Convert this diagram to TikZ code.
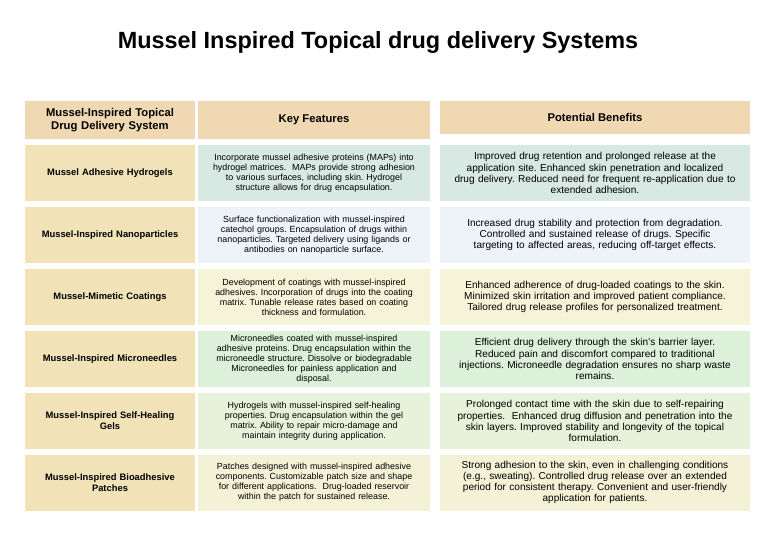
\documentclass[tikz,border=0pt]{standalone}
\usepackage{fontspec}
\setmainfont{Liberation Sans}
\usetikzlibrary{positioning}
\definecolor{headtan}{HTML}{EFD8B2}
\definecolor{sandcol}{HTML}{F1E2B8}
\definecolor{tealcol}{HTML}{D8E8E3}
\definecolor{bluecol}{HTML}{EEF2F9}
\definecolor{creamcol}{HTML}{F5F3D8}
\definecolor{greencol}{HTML}{DDF1DA}
\definecolor{mintcol}{HTML}{E6F2DA}
\definecolor{palecol}{HTML}{F3F2D6}
\begin{document}
\frenchspacing
\begin{tikzpicture}[
    x=0.03cm, y=-0.03cm,
    cell/.style={inner sep=1pt, align=center, font=\fontsize{7.6}{8.6}\selectfont},
    syscell/.style={cell, fill=sandcol, minimum width=5.1cm, minimum height=1.68cm, text width=5cm, font=\fontsize{8}{9.6}\selectfont\bfseries},
    keycell/.style={cell, minimum width=6.96cm, minimum height=1.68cm, text width=6.85cm},
    bencell/.style={cell, minimum width=9.3cm, minimum height=1.68cm, text width=9.2cm, font=\fontsize{8.6}{9.5}\selectfont},
    headcell/.style={cell, fill=headtan, minimum height=1.14cm, font=\fontsize{9.6}{10.6}\selectfont\bfseries}
]
    \useasboundingbox (0,0) rectangle (777,537);
    \node[font=\fontsize{20}{24}\selectfont\bfseries] (title) at (378,42) {Mussel Inspired Topical drug delivery Systems};

    % header row
    \node[headcell, minimum width=5.1cm, text width=5cm] (hsys) at (110,120) {Mussel-Inspired Topical\\Drug Delivery System};
    \node[headcell, minimum width=6.96cm] (hkey) at (314,120) {Key Features};
    \node[headcell, minimum width=9.3cm, minimum height=0.99cm] (hben) at (595,117.5) {Potential Benefits};

    % row 1
    \node[syscell] (s1) at (110,173) {Mussel Adhesive Hydrogels};
    \node[keycell, fill=tealcol] (k1) at (314,173) {Incorporate mussel adhesive proteins (MAPs) into\\hydrogel matrices.\ \ MAPs provide strong adhesion\\to various surfaces, including skin. Hydrogel\\structure allows for drug encapsulation.};
    \node[bencell, fill=tealcol] (b1) at (595,173) {Improved drug retention and prolonged release at the\\application site. Enhanced skin penetration and localized\\drug delivery. Reduced need for frequent re-application due to\\extended adhesion.};

    % row 2
    \node[syscell] (s2) at (110,235) {Mussel-Inspired Nanoparticles};
    \node[keycell, fill=bluecol] (k2) at (314,235) {Surface functionalization with mussel-inspired\\catechol groups. Encapsulation of drugs within\\nanoparticles. Targeted delivery using ligands or\\antibodies on nanoparticle surface.};
    \node[bencell, fill=bluecol] (b2) at (595,235) {Increased drug stability and protection from degradation.\\Controlled and sustained release of drugs. Specific\\targeting to affected areas, reducing off-target effects.};

    % row 3
    \node[syscell] (s3) at (110,297) {Mussel-Mimetic Coatings};
    \node[keycell, fill=creamcol] (k3) at (314,297) {Development of coatings with mussel-inspired\\adhesives. Incorporation of drugs into the coating\\matrix. Tunable release rates based on coating\\thickness and formulation.};
    \node[bencell, fill=creamcol] (b3) at (595,297) {Enhanced adherence of drug-loaded coatings to the skin.\\Minimized skin irritation and improved patient compliance.\\Tailored drug release profiles for personalized treatment.};

    % row 4
    \node[syscell] (s4) at (110,359) {Mussel-Inspired Microneedles};
    \node[keycell, fill=greencol] (k4) at (314,359) {Microneedles coated with mussel-inspired\\adhesive proteins. Drug encapsulation within the\\microneedle structure. Dissolve or biodegradable\\Microneedles for painless application and\\disposal.};
    \node[bencell, fill=greencol] (b4) at (595,359) {Efficient drug delivery through the skin's barrier layer.\\Reduced pain and discomfort compared to traditional\\injections. Microneedle degradation ensures no sharp waste\\remains.};

    % row 5
    \node[syscell] (s5) at (110,421) {Mussel-Inspired Self-Healing\\Gels};
    \node[keycell, fill=mintcol] (k5) at (314,421) {Hydrogels with mussel-inspired self-healing\\properties. Drug encapsulation within the gel\\matrix. Ability to repair micro-damage and\\maintain integrity during application.};
    \node[bencell, fill=mintcol] (b5) at (595,421) {Prolonged contact time with the skin due to self-repairing\\properties.\ \ Enhanced drug diffusion and penetration into the\\skin layers. Improved stability and longevity of the topical\\formulation.};

    % row 6
    \node[syscell] (s6) at (110,482.5) {Mussel-Inspired Bioadhesive\\Patches};
    \node[keycell, fill=palecol] (k6) at (314,482.5) {Patches designed with mussel-inspired adhesive\\components. Customizable patch size and shape\\for different applications.\ \ Drug-loaded reservoir\\within the patch for sustained release.};
    \node[bencell, fill=palecol] (b6) at (595,482.5) {Strong adhesion to the skin, even in challenging conditions\\(e.g., sweating). Controlled drug release over an extended\\period for consistent therapy. Convenient and user-friendly\\application for patients.};
\end{tikzpicture}
\end{document}
